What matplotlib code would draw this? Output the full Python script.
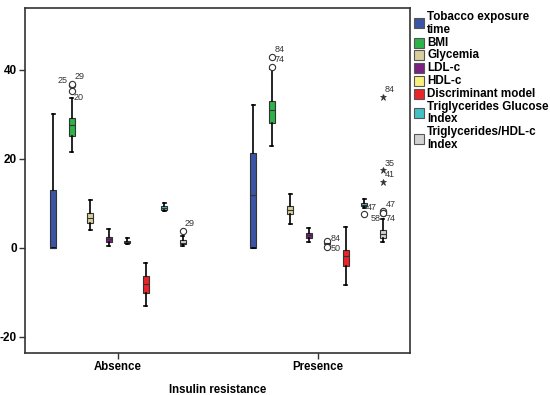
import numpy as np
import matplotlib
matplotlib.use("Agg")
import matplotlib.pyplot as plt
from matplotlib.patches import Rectangle

plt.rcParams['font.family'] = ['Liberation Sans', 'DejaVu Sans']

groups = ["Absence", "Presence"]
variables = ["Tobacco exposure\ntime", "BMI", "Glycemia", "LDL-c", "HDL-c",
             "Discriminant model", "Triglycerides Glucose\nIndex",
             "Triglycerides/HDL-c\nIndex"]
colors = ["#3a54a6", "#2db34a", "#d8cf9a", "#7b2181", "#f7f27c",
          "#ee2327", "#43c0c2", "#d2d2d2"]

# whisker low, q1, median, q3, whisker high  (per variable)
absence = [
    [0.0, 0.0, 0.0, 13.0, 30.0],
    [21.6, 25.2, 27.6, 29.2, 33.7],
    [4.0, 5.6, 6.7, 7.9, 10.8],
    [0.5, 1.4, 2.0, 2.5, 4.3],
    [0.9, 1.05, 1.3, 1.6, 2.2],
    [-13.0, -10.2, -8.2, -6.2, -3.4],
    [8.2, 8.5, 8.95, 9.4, 10.0],
    [0.5, 0.8, 1.2, 1.8, 2.7],
]
presence = [
    [0.0, 0.0, 12.0, 21.4, 32.0],
    [22.9, 28.0, 31.0, 33.0, 40.2],
    [5.3, 7.6, 8.5, 9.5, 12.1],
    [1.4, 2.3, 2.8, 3.3, 4.4],
    [0.8, 0.9, 1.0, 1.2, 1.3],
    [-8.3, -4.0, -1.8, -0.45, 4.8],
    [9.0, 9.4, 9.7, 10.0, 10.9],
    [1.3, 2.2, 3.1, 4.0, 6.4],
]

# outliers: (group, variable, value, case label, marker)
outliers = [
    (0, 1, 36.6, "25", "o"),
    (0, 1, 36.9, "29", "o"),
    (0, 1, 35.3, "20", "o"),
    (0, 7, 3.7, "29", "o"),
    (1, 1, 42.8, "84", "o"),
    (1, 1, 40.7, "74", "o"),
    (1, 4, 1.6, "84", "o"),
    (1, 4, 0.3, "50", "o"),
    (1, 6, 7.6, "47", "o"),
    (1, 7, 8.4, "47", "o"),
    (1, 7, 7.9, "58", "o"),
    (1, 7, 7.9, "74", "o"),
    (1, 7, 34.0, "84", "*"),
    (1, 7, 17.4, "35", "*"),
    (1, 7, 14.9, "41", "*"),
]
# label offsets in pixels (dx, dy up)
label_offsets = [(-9, 5), (8, 7), (7, -7), (7, 8), (8, 8), (8, 7), (8, 2),
                 (8, -2), (8, 7), (8, 6), (-7, -6), (8, -6), (7, 7), (7, 7), (7, 7)]

W, H = 550, 395
fig = plt.figure(figsize=(5.5, 3.95), dpi=100)
ax = fig.add_axes([25 / W, 1 - 353 / H, 385 / W, 345 / H])

step = 0.0925
width = 0.03
for g, data in enumerate([absence, presence]):
    for i, s in enumerate(data):
        pos = g + 1 + (i - 3.5) * step
        st = dict(whislo=s[0], q1=s[1], med=s[2], q3=s[3], whishi=s[4], fliers=[])
        ax.bxp([st], positions=[pos], widths=width, patch_artist=True,
               showfliers=False,
               boxprops=dict(facecolor=colors[i], edgecolor="#333333", linewidth=0.8),
               medianprops=dict(color="#333333", linewidth=0.8),
               whiskerprops=dict(color="black", linewidth=1.2),
               capprops=dict(color="black", linewidth=1.2),
               capwidths=width * 0.5)

for (g, i, v, lab, kind), (dx, dy) in zip(outliers, label_offsets):
    pos = g + 1 + (i - 3.5) * step
    if kind == "o":
        ax.plot(pos, v, "o", mfc="white", mec="#333333", ms=4.5, mew=0.8)
    else:
        ax.plot(pos, v, "*", color="#333333", ms=5, mew=0.5)
    ax.annotate(lab, (pos, v), xytext=(dx, dy), textcoords="offset pixels",
                fontsize=6.5, color="#333333", ha="center", va="center")

ax.set_xlim(0.535, 2.46)
ax.set_ylim(-23.6, 53.9)
ax.set_xticks([1, 2])
ax.set_xticklabels(groups, fontsize=8.3, fontweight="bold")
ax.set_yticks([-20, 0, 20, 40])
ax.set_yticklabels(["-20", "0", "20", "40"], fontsize=8.5, fontweight="bold")
ax.tick_params(axis="both", length=4, width=1, color="#333333", pad=2)
ax.set_xlabel("Insulin resistance", fontsize=8.3, fontweight="bold", labelpad=8)
for sp in ax.spines.values():
    sp.set_color("#333333")
    sp.set_linewidth(1.2)

# legend, drawn line by line with a tight line pitch
pitch = 12.8
line = 0
for lab, c in zip(variables, colors):
    parts = lab.split("\n")
    y0 = 17 + line * pitch
    yc = y0 + (len(parts) - 1) * pitch / 2
    fig.add_artist(Rectangle((414 / W, 1 - (yc + 5) / H), 10 / W, 10 / H,
                             transform=fig.transFigure, facecolor=c,
                             edgecolor="#555555", linewidth=0.8))
    for k, p in enumerate(parts):
        fig.text(427 / W, 1 - (y0 + k * pitch) / H, p, fontsize=8.4,
                 fontweight="bold", ha="left", va="center")
    line += len(parts)

fig.savefig("out.png", dpi=100)
